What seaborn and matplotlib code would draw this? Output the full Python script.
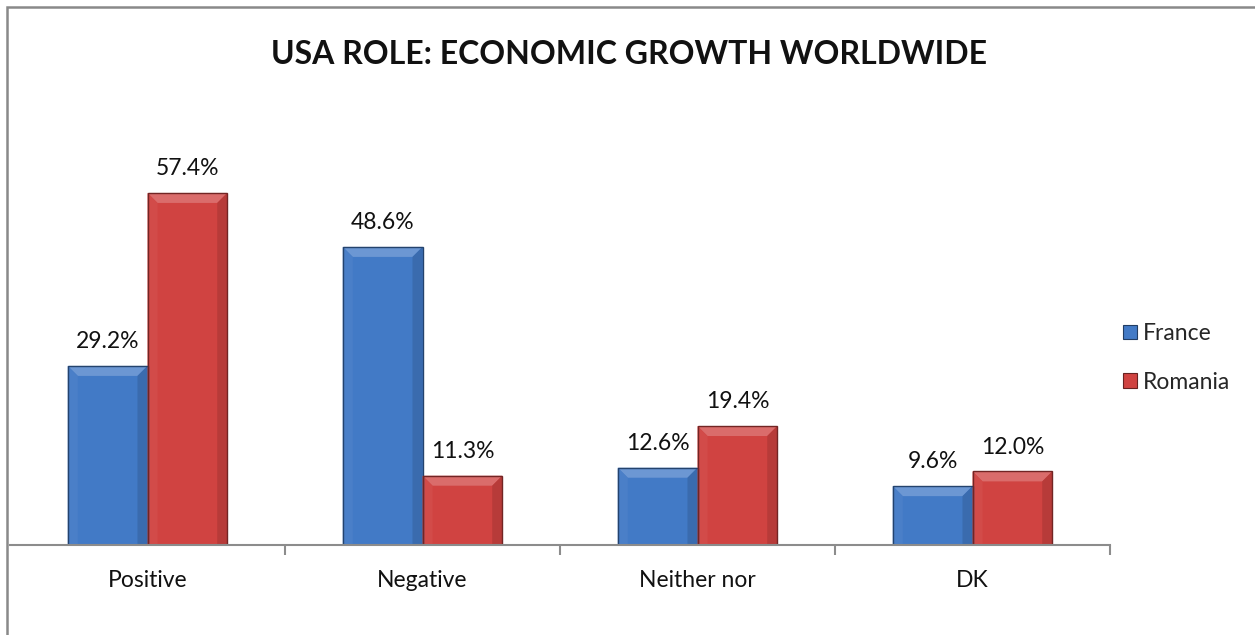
import matplotlib
matplotlib.use("Agg")
import matplotlib.pyplot as plt
from matplotlib.patches import Rectangle, Polygon
import matplotlib.colors as mcolors
import seaborn as sns
import pandas as pd

categories = ["Positive", "Negative", "Neither nor", "DK"]
france = [29.2, 48.6, 12.6, 9.6]
romania = [57.4, 11.3, 19.4, 12.0]
series_names = ["France", "Romania"]
title = "USA ROLE: ECONOMIC GROWTH WORLDWIDE"

colors = {"France": "#427AC6", "Romania": "#D04341"}

df = pd.DataFrame({
    "category": categories * 2,
    "value": france + romania,
    "series": [series_names[0]] * 4 + [series_names[1]] * 4,
})

sns.set_theme(style="white")
plt.rcParams["font.family"] = ["Lato", "DejaVu Sans"]

W, H = 1255, 635
fig = plt.figure(figsize=(W / 100, H / 100), dpi=100)
fig.patch.set_facecolor("white")

# plot area in pixels
left, right, bottom, top = 10, 1110, 545, 177
ax = fig.add_axes([left / W, 1 - bottom / H, (right - left) / W, (bottom - top) / H])

sns.barplot(data=df, x="category", y="value", hue="series", order=categories,
            hue_order=series_names, palette=colors, width=0.58, saturation=1,
            errorbar=None, ax=ax, legend=False, linewidth=0)

ax.set_xlim(-0.5, 3.5)
ax.set_ylim(0, 60)

# bevelled look for each bar
fig.canvas.draw()
to_px = ax.transData
from_px = ax.transData.inverted()
b = 10  # bevel size in px
for patch, name in zip(ax.patches, [n for n in series_names for _ in categories]):
    x0, y0 = patch.get_x(), patch.get_y()
    x1, y1 = x0 + patch.get_width(), y0 + patch.get_height()
    (px0, py0), (px1, py1) = to_px.transform([(x0, y0), (x1, y1)])
    base = mcolors.to_rgb(colors[name])
    light = tuple(min(1, c * 0.78 + 0.22) for c in base)
    midl = tuple(min(1, c * 0.96 + 0.04) for c in base)
    dark = tuple(c * 0.88 for c in base)
    darker = tuple(c * 0.55 for c in base)
    faces = [
        ([(px0, py1), (px1, py1), (px1 - b, py1 - b), (px0 + b, py1 - b)], light),
        ([(px0, py0), (px0, py1), (px0 + b, py1 - b), (px0 + b, py0)], midl),
        ([(px1, py0), (px1, py1), (px1 - b, py1 - b), (px1 - b, py0)], dark),
    ]
    for pts, col in faces:
        ax.add_patch(Polygon(from_px.transform(pts), closed=True, facecolor=col,
                             edgecolor="none", zorder=patch.get_zorder() + 0.1))
    ax.add_patch(Rectangle((x0, y0), x1 - x0, y1 - y0, fill=False,
                           edgecolor=darker, linewidth=1.0,
                           zorder=patch.get_zorder() + 0.2))

# value labels
for container in ax.containers:
    ax.bar_label(container, labels=[f"{v:.1f}%" for v in container.datavalues],
                 padding=10, fontsize=16.5, color="#111111")

for side in ["top", "right", "left"]:
    ax.spines[side].set_visible(False)
ax.spines["bottom"].set_color("#8C8C8C")
ax.spines["bottom"].set_linewidth(1.5)
ax.set_yticks([])
ax.set_xlabel("")
ax.set_ylabel("")
ax.set_xticks(range(len(categories)))
ax.set_xticklabels(categories, fontsize=16.5, color="#111111")
ax.tick_params(axis="x", which="both", bottom=True)
ax.tick_params(axis="x", which="major", length=0, pad=18)
ax.set_xticks([0.5, 1.5, 2.5, 3.5], minor=True)
ax.tick_params(axis="x", which="minor", length=7, width=1.5, color="#8C8C8C", direction="out")

# legend
handles = [Rectangle((0, 0), 1, 1, facecolor=colors[n],
                     edgecolor=tuple(c * 0.5 for c in mcolors.to_rgb(colors[n])), linewidth=0.8)
           for n in series_names]
fig.legend(handles, series_names, loc="center left", bbox_to_anchor=(1114 / W, 1 - 358 / H),
           frameon=False, fontsize=16.5, handlelength=0.6, handleheight=0.6,
           handletextpad=0.25, labelspacing=1.2, borderaxespad=0)

fig.text(629 / W, 1 - 55 / H, title, ha="center", va="center",
         fontsize=23, fontweight="bold", color="#111111")

# chart area border
fig.add_artist(Rectangle((7 / W, -0.1), 1.2, 1 - 7 / H + 0.1, transform=fig.transFigure,
                         fill=False, edgecolor="#898989", linewidth=1.8))

fig.savefig("out.png", dpi=100, facecolor="white")
